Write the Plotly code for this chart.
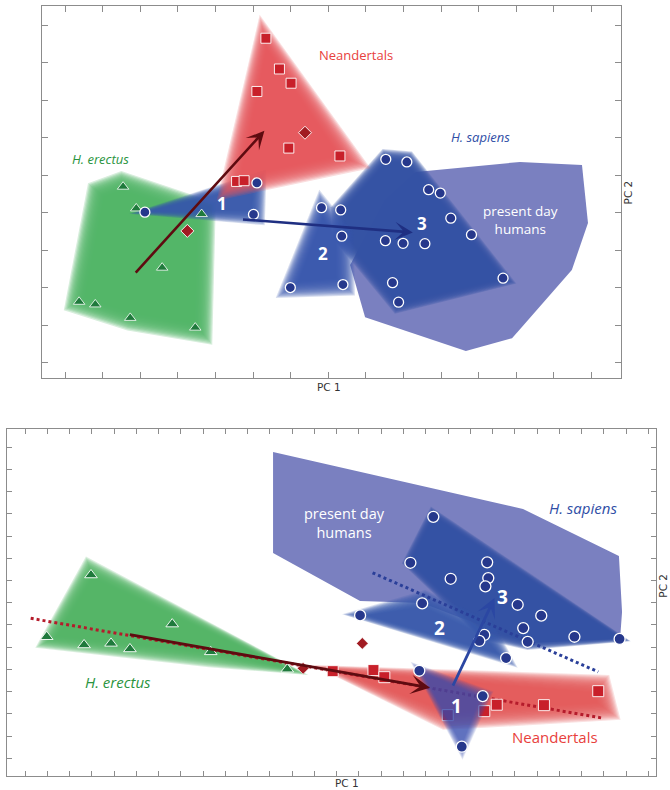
import math
import plotly.graph_objects as go

# ---------------- upper panel: first PCA (PC1 x PC2) ----------------
top_erectus_x = [-5.46, -5.11, -3.37, -4.42, -6.63, -6.20, -5.27, -3.54]
top_erectus_y = [0.19, -0.39, -0.54, -1.97, -2.88, -2.95, -3.31, -3.57]
top_neander_x = [-1.66, -1.30, -0.99, -1.90, -1.05, -2.44, -2.24, 0.31]
top_neander_y = [4.15, 3.33, 2.95, 2.73, 1.22, 0.33, 0.35, 1.01]
top_diamond_x = [-0.62, -3.75]
top_diamond_y = [1.63, -0.99]
top_c1_x = [-4.88, -1.90, -1.99]
top_c1_y = [-0.49, 0.29, -0.55]
top_c2_x = [-0.18, 0.33, 0.36, -1.01, 0.39]
top_c2_y = [-0.37, -0.43, -1.13, -2.50, -2.42]
top_c3_x = [1.53, 2.09, 2.67, 2.98, 3.26, 3.81, 1.52, 1.99, 2.57, 4.65, 1.71, 1.87]
top_c3_y = [0.92, 0.85, 0.11, 0.02, -0.65, -1.09, -1.25, -1.32, -1.33, -2.25, -2.37, -2.89]

top_neander_hull_x = [-1.71, 0.58, -2.56]
top_neander_hull_y = [4.20, 0.90, 0.23]
top_erectus_hull_x = [-5.50, -3.31, -3.39, -5.27, -6.68, -6.12]
top_erectus_hull_y = [0.28, -0.46, -3.66, -3.34, -2.89, 0.05]
top_c1_hull_x = [-4.93, -1.87, -1.92]
top_c1_hull_y = [-0.49, 0.37, -0.59]
top_c2_hull_x = [-0.18, 0.36, 0.39, -1.01]
top_c2_hull_y = [-0.37, -1.13, -2.42, -2.50]
top_c3_hull_x = [1.53, 2.12, 4.70, 1.85, 0.34, 0.28]
top_c3_hull_y = [0.98, 0.93, -2.29, -2.97, -1.13, -0.43]
top_modern_hull_x = [2.33, 5.10, 6.75, 6.91, 6.48, 4.89, 3.66, 0.98, 0.58, 1.51]
top_modern_hull_y = [0.58, 0.85, 0.77, -0.78, -2.03, -3.85, -4.19, -3.29, -1.90, -0.17]

top_neander_arrow = [(-5.16, -2.14), (-1.70, 1.68)]
top_sapiens_arrow = [(-2.31, -0.68), (2.25, -1.03)]

# ---------------- lower panel: second PCA (PC1 x PC2) ----------------
bot_erectus_x = [-11.04, -13.03, -11.35, -10.14, -9.29, -7.39, -5.66, -2.22]
bot_erectus_y = [1.25, -1.53, -1.90, -1.83, -2.08, -0.96, -2.21, -2.99]
bot_neander_x = [-0.18, 1.65, 2.14, 4.99, 6.63, 7.19, 9.31, 11.75]
bot_neander_y = [-3.08, -3.03, -3.35, -5.06, -4.88, -4.59, -4.61, -3.98]
bot_diamond_x = [-1.51, 1.15]
bot_diamond_y = [-2.95, -1.83]
bot_c1_x = [3.71, 6.56, 5.62]
bot_c1_y = [-3.06, -4.20, -6.48]
bot_c2_x = [1.05, 3.84, 6.63, 6.41, 7.61]
bot_c2_y = [-0.57, -0.03, -1.45, -1.72, -2.49]
bot_c3_x = [4.34, 3.31, 6.76, 5.12, 6.81, 6.68, 8.13, 9.19, 8.38, 8.58, 10.68, 12.71]
bot_c3_y = [3.87, 1.80, 1.82, 1.08, 1.11, 0.74, -0.09, -0.58, -1.14, -1.76, -1.53, -1.63]

bot_erectus_hull_x = [-11.08, -1.96, -5.69, -12.90]
bot_erectus_hull_y = [1.47, -3.03, -2.44, -1.70]
bot_neander_hull_x = [-0.30, 11.83, 12.10, 6.66, 4.87]
bot_neander_hull_y = [-2.99, -3.75, -4.79, -5.10, -5.19]
bot_c1_hull_x = [3.65, 6.66, 5.63]
bot_c1_hull_y = [-2.95, -4.16, -6.63]
bot_c2_hull_x = [0.96, 3.92, 6.70, 7.55]
bot_c2_hull_y = [-0.55, 0.08, -1.23, -2.50]
bot_c3_hull_x = [4.33, 12.82, 8.59, 6.66, 3.25]
bot_c3_hull_y = [3.95, -1.63, -1.86, -1.41, 1.83]
bot_modern_hull_x = [-2.86, 8.37, 12.68, 12.82, 12.73, 8.55, 3.83, 1.05, -2.86]
bot_modern_hull_y = [6.79, 4.22, 2.10, -0.42, -1.63, -1.81, -0.01, 0.08, 2.24]

bot_neander_trend_x = [-13.75, 11.98]
bot_neander_trend_y = [-0.70, -5.20]
bot_sapiens_trend_x = [1.61, 11.75]
bot_sapiens_trend_y = [1.35, -3.11]
bot_neander_arrow = [(-9.36, -1.42), (4.19, -3.83)]
bot_sapiens_arrow = [(5.19, -3.80), (7.09, 0.21)]

# ---------------- styling ----------------
RED_FILL = (230, 88, 90)
GREEN_FILL = (82, 183, 104)
BLUE_FILL = (50, 84, 166)
BLUE_SOFT = (56, 86, 172)
MODERN_FILL = "rgb(122,128,192)"
NAVY = "#26388c"
SQ_RED = "#c8202a"
DIA_RED = "#a11b22"
TRI_GREEN = "#1f7a3c"
FONT = "Open Sans"

TOP_UNIT = 37.55   # pixels per axis unit, upper panel
BOT_UNIT = 22.23   # pixels per axis unit, lower panel

fig = go.Figure()


def offset_poly(xs, ys, d):
    """Offset a polygon outward (d > 0) or inward (d < 0) along vertex normals."""
    n = len(xs)
    area = 0.5 * sum(xs[i] * ys[(i + 1) % n] - xs[(i + 1) % n] * ys[i] for i in range(n))
    s = 1.0 if area > 0 else -1.0

    def normal(ax_, ay_, bx, by):
        dx, dy = bx - ax_, by - ay_
        L = math.hypot(dx, dy) or 1.0
        return s * dy / L, -s * dx / L

    ox, oy = [], []
    for i in range(n):
        x0, y0 = xs[i - 1], ys[i - 1]
        x1, y1 = xs[i], ys[i]
        x2, y2 = xs[(i + 1) % n], ys[(i + 1) % n]
        n1 = normal(x0, y0, x1, y1)
        n2 = normal(x1, y1, x2, y2)
        mx, my = n1[0] + n2[0], n1[1] + n2[1]
        L = math.hypot(mx, my)
        if L < 1e-9:
            mx, my, L = n1[0], n1[1], 1.0
        mx, my = mx / L, my / L
        c = max(mx * n1[0] + my * n1[1], 0.65)
        ox.append(x1 + mx * d / c)
        oy.append(y1 + my * d / c)
    return ox, oy


def soft_hull(xs, ys, rgb, alpha, spread_px, unit, xa, ya, steps=16):
    """Hull drawn as stacked translucent offsets, giving a feathered edge."""
    spread = spread_px / unit
    a = 1 - (1 - alpha) ** (1.0 / steps)
    for k in range(steps):
        d = -0.35 * spread + spread * k / (steps - 1)
        px, py = offset_poly(xs, ys, d)
        fig.add_trace(go.Scatter(
            x=px + [px[0]], y=py + [py[0]], mode="none", fill="toself",
            fillcolor=f"rgba({rgb[0]},{rgb[1]},{rgb[2]},{a:.3f})",
            hoverinfo="skip", showlegend=False, xaxis=xa, yaxis=ya))


def solid_hull(xs, ys, color, xa, ya):
    fig.add_trace(go.Scatter(
        x=xs + [xs[0]], y=ys + [ys[0]], mode="none", fill="toself",
        fillcolor=color, hoverinfo="skip", showlegend=False, xaxis=xa, yaxis=ya))


def points(xs, ys, symbol, color, size, xa, ya, lw=1.0):
    fig.add_trace(go.Scatter(
        x=xs, y=ys, mode="markers", hoverinfo="skip", showlegend=False,
        marker=dict(symbol=symbol, color=color, size=size,
                    line=dict(color="white", width=lw)),
        xaxis=xa, yaxis=ya))


# ---- upper panel ----
solid_hull(top_modern_hull_x, top_modern_hull_y, MODERN_FILL, "x", "y")
soft_hull(top_c3_hull_x, top_c3_hull_y, BLUE_FILL, 0.985, 12, TOP_UNIT, "x", "y")
soft_hull(top_c2_hull_x, top_c2_hull_y, BLUE_SOFT, 0.97, 18, TOP_UNIT, "x", "y")
soft_hull(top_erectus_hull_x, top_erectus_hull_y, GREEN_FILL, 0.985, 18, TOP_UNIT, "x", "y")
soft_hull(top_c1_hull_x, top_c1_hull_y, BLUE_SOFT, 0.96, 14, TOP_UNIT, "x", "y")
soft_hull(top_neander_hull_x, top_neander_hull_y, RED_FILL, 0.97, 22, TOP_UNIT, "x", "y")

points(top_erectus_x, top_erectus_y, "triangle-up", TRI_GREEN, 10, "x", "y", lw=0.8)
points(top_neander_x, top_neander_y, "square", SQ_RED, 10, "x", "y", lw=0.9)
points(top_diamond_x, top_diamond_y, "diamond", DIA_RED, 10, "x", "y", lw=0.9)
points(top_c1_x + top_c2_x + top_c3_x, top_c1_y + top_c2_y + top_c3_y,
       "circle", NAVY, 10, "x", "y", lw=1.3)

# ---- lower panel ----
solid_hull(bot_modern_hull_x, bot_modern_hull_y, MODERN_FILL, "x2", "y2")
soft_hull(bot_c3_hull_x, bot_c3_hull_y, BLUE_FILL, 0.985, 9, BOT_UNIT, "x2", "y2")
soft_hull(bot_c2_hull_x, bot_c2_hull_y, BLUE_SOFT, 0.96, 16, BOT_UNIT, "x2", "y2")
soft_hull(bot_erectus_hull_x, bot_erectus_hull_y, GREEN_FILL, 0.98, 16, BOT_UNIT, "x2", "y2")
soft_hull(bot_neander_hull_x, bot_neander_hull_y, RED_FILL, 0.96, 18, BOT_UNIT, "x2", "y2")

fig.add_trace(go.Scatter(
    x=bot_neander_trend_x, y=bot_neander_trend_y, mode="lines", hoverinfo="skip",
    showlegend=False, line=dict(color="#b51b2b", width=3, dash="dot"),
    xaxis="x2", yaxis="y2"))
points(bot_neander_x, bot_neander_y, "square", SQ_RED, 11, "x2", "y2", lw=0.9)

soft_hull(bot_c1_hull_x, bot_c1_hull_y, (60, 82, 178), 0.78, 10, BOT_UNIT, "x2", "y2")

fig.add_trace(go.Scatter(
    x=bot_sapiens_trend_x, y=bot_sapiens_trend_y, mode="lines", hoverinfo="skip",
    showlegend=False, line=dict(color="#2a3f99", width=3, dash="dot"),
    xaxis="x2", yaxis="y2"))

points(bot_erectus_x, bot_erectus_y, "triangle-up", TRI_GREEN, 11, "x2", "y2", lw=0.9)
points(bot_diamond_x, bot_diamond_y, "diamond", DIA_RED, 9, "x2", "y2", lw=0.6)
points(bot_c1_x + bot_c2_x + bot_c3_x, bot_c1_y + bot_c2_y + bot_c3_y,
       "circle", NAVY, 11, "x2", "y2", lw=1.3)

# ---- arrows ----
annotations = []


def arrow(seg, color, xr, yr, width=2.6, size=1.15):
    (x0, y0), (x1, y1) = seg
    annotations.append(dict(
        x=x1, y=y1, ax=x0, ay=y0, xref=xr, yref=yr, axref=xr, ayref=yr,
        showarrow=True, arrowhead=3, arrowsize=size, arrowwidth=width,
        arrowcolor=color, standoff=0, startstandoff=0, text=""))


arrow(top_neander_arrow, "#5e0b10", "x", "y")
arrow(top_sapiens_arrow, "#1f2f82", "x", "y")
arrow(bot_neander_arrow, "#5e0b10", "x2", "y2", width=2.8)
arrow(bot_sapiens_arrow, "#2b47a3", "x2", "y2", width=2.8)


def label(x, y, text, color, size, xr, yr, italic=False, bold=False):
    t = text
    if bold:
        t = f"<b>{t}</b>"
    if italic:
        t = f"<i>{t}</i>"
    annotations.append(dict(
        x=x, y=y, xref=xr, yref=yr, text=t, showarrow=False, align="center",
        xanchor="center", yanchor="middle",
        font=dict(family=FONT, size=size, color=color)))


label(0.74, 3.70, "Neandertals", "#e8413c", 13, "x", "y")
label(-6.07, 0.93, "H. erectus", "#2a9440", 13, "x", "y", italic=True)
label(4.05, 1.52, "H. sapiens", "#2f4ea6", 13, "x", "y", italic=True)
label(5.12, -0.71, "present day<br>humans", "white", 13.5, "x", "y")
label(-2.84, -0.27, "1", "white", 17, "x", "y", bold=True)
label(-0.13, -1.59, "2", "white", 17, "x", "y", bold=True)
label(2.50, -0.79, "3", "white", 17, "x", "y", bold=True)

label(0.35, 3.59, "present day<br>humans", "white", 14.5, "x2", "y2")
label(11.06, 4.26, "H. sapiens", "#2f4ea6", 15, "x2", "y2", italic=True)
label(-9.82, -3.57, "H. erectus", "#2a9440", 15, "x2", "y2", italic=True)
label(9.81, -6.05, "Neandertals", "#e8413c", 15, "x2", "y2")
label(5.39, -4.65, "1", "white", 19, "x2", "y2", bold=True)
label(4.60, -1.15, "2", "white", 19, "x2", "y2", bold=True)
label(7.46, 0.27, "3", "white", 19, "x2", "y2", bold=True)

# axis titles
for x, y, txt, ang, ya in [(0.491, 0.510, "PC 1", 0, "middle"),
                           (0.938, 0.757, "PC 2", -90, "middle"),
                           (0.518, 0.0, "PC 1", 0, "bottom"),
                           (0.990, 0.259, "PC 2", -90, "middle")]:
    annotations.append(dict(
        x=x, y=y, xref="paper", yref="paper", text=txt, showarrow=False,
        xanchor="center", yanchor=ya, textangle=ang, borderpad=0,
        font=dict(family="DejaVu Sans", size=10.5, color="#333333")))

axis_style = dict(showline=True, linecolor="#8c8c8c", linewidth=1.3, mirror="ticks",
                  ticks="inside", tickwidth=1, tickcolor="#8c8c8c",
                  showticklabels=False, showgrid=False, zeroline=False, fixedrange=True)

fig.update_layout(
    width=670, height=790, margin=dict(l=0, r=0, t=0, b=0),
    paper_bgcolor="white", plot_bgcolor="white", showlegend=False,
    xaxis=dict(domain=[0.0631, 0.9264], range=[-7.61, 7.78],
               tickvals=list(range(-7, 8)), ticklen=6, anchor="y", **axis_style),
    yaxis=dict(domain=[0.5219, 0.9924], range=[-4.905, 5.01],
               tickvals=[v + 0.5 for v in range(-5, 5)], ticklen=6, anchor="x", **axis_style),
    xaxis2=dict(domain=[0.0109, 0.9796], range=[-14.80, 14.36],
                tickvals=list(range(-14, 15)), ticklen=5, anchor="y2", **axis_style),
    yaxis2=dict(domain=[0.0177, 0.4566], range=[-7.80, 7.81],
                tickvals=list(range(-7, 8)), ticklen=5, anchor="x2", **axis_style),
    annotations=annotations,
)

fig.write_html("out.html")
